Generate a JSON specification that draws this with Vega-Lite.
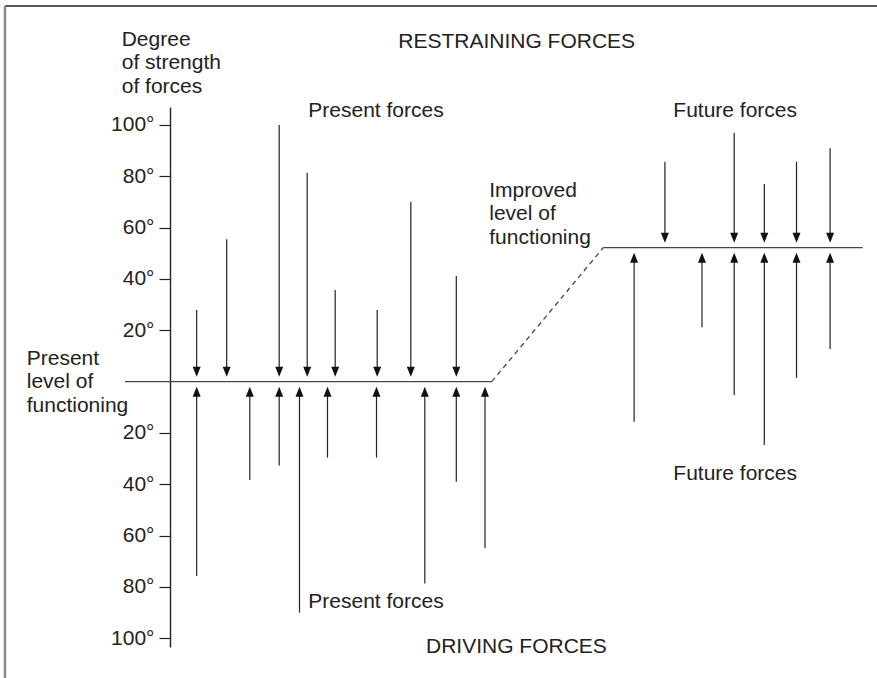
{
  "$schema": "https://vega.github.io/schema/vega-lite/v6.json",
  "width": 700,
  "height": 540,
  "autosize": {"type": "none"},
  "padding": {"left": 170, "top": 107, "right": 7, "bottom": 31},
  "background": "white",
  "config": {"view": {"stroke": null}, "font": "Liberation Sans"},
  "datasets": {
    "arrows": [
      {"x": 3.81, "y": 27.9, "level": 0, "dir": "down"},
      {"x": 8.1, "y": 55.5, "level": 0, "dir": "down"},
      {"x": 15.6, "y": 100, "level": 0, "dir": "down"},
      {"x": 19.6, "y": 81.4, "level": 0, "dir": "down"},
      {"x": 23.6, "y": 35.7, "level": 0, "dir": "down"},
      {"x": 29.6, "y": 27.9, "level": 0, "dir": "down"},
      {"x": 34.4, "y": 70.1, "level": 0, "dir": "down"},
      {"x": 40.9, "y": 41.2, "level": 0, "dir": "down"},
      {"x": 3.81, "y": -75.7, "level": 0, "dir": "up"},
      {"x": 11.4, "y": -38.3, "level": 0, "dir": "up"},
      {"x": 15.6, "y": -32.7, "level": 0, "dir": "up"},
      {"x": 18.5, "y": -90.0, "level": 0, "dir": "up"},
      {"x": 22.5, "y": -29.6, "level": 0, "dir": "up"},
      {"x": 29.5, "y": -29.6, "level": 0, "dir": "up"},
      {"x": 36.4, "y": -78.6, "level": 0, "dir": "up"},
      {"x": 40.9, "y": -39.0, "level": 0, "dir": "up"},
      {"x": 45.0, "y": -64.9, "level": 0, "dir": "up"},
      {"x": 70.7, "y": 85.7, "level": 52.2, "dir": "down"},
      {"x": 80.6, "y": 97.0, "level": 52.2, "dir": "down"},
      {"x": 84.9, "y": 77.0, "level": 52.2, "dir": "down"},
      {"x": 89.5, "y": 85.7, "level": 52.2, "dir": "down"},
      {"x": 94.3, "y": 90.9, "level": 52.2, "dir": "down"},
      {"x": 66.3, "y": -15.6, "level": 52.2, "dir": "up"},
      {"x": 76.0, "y": 21.2, "level": 52.2, "dir": "up"},
      {"x": 80.6, "y": -5.2, "level": 52.2, "dir": "up"},
      {"x": 84.9, "y": -24.7, "level": 52.2, "dir": "up"},
      {"x": 89.5, "y": 1.5, "level": 52.2, "dir": "up"},
      {"x": 94.3, "y": 12.7, "level": 52.2, "dir": "up"}
    ],
    "levels": [
      {"x": -6.43, "y": 0, "seg": "present", "style": "solid"},
      {"x": 45.96, "y": 0, "seg": "present", "style": "solid"},
      {"x": 45.96, "y": 0, "seg": "transition", "style": "dashed"},
      {"x": 61.9, "y": 52.2, "seg": "transition", "style": "dashed"},
      {"x": 61.9, "y": 52.2, "seg": "improved", "style": "solid"},
      {"x": 98.96, "y": 52.2, "seg": "improved", "style": "solid"}
    ],
    "labels": [
      {"text": "RESTRAINING FORCES", "x": 32.61, "y": 129.9},
      {"text": "Degree\nof strength\nof forces", "x": -6.9, "y": 130.8},
      {"text": "Present forces", "x": 19.76, "y": 103.2},
      {"text": "Future forces", "x": 71.9, "y": 103.2},
      {"text": "Improved\nlevel of\nfunctioning", "x": 45.61, "y": 72.06},
      {"text": "Present\nlevel of\nfunctioning", "x": -20.47, "y": 6.49},
      {"text": "Future forces", "x": 71.9, "y": -38.32},
      {"text": "Present forces", "x": 19.76, "y": -88.08},
      {"text": "DRIVING FORCES", "x": 36.57, "y": -105.84}
    ],
    "frame": [
      {"x": -23.57, "y": 146.4, "x2": 101, "y2": 146.4, "part": "top"},
      {"x": -23.57, "y": 146.4, "x2": -23.57, "y2": -116, "part": "left"}
    ]
  },
  "encoding": {
    "x": {"field": "x", "type": "quantitative", "scale": {"domain": [0, 100], "nice": false, "zero": false}, "axis": null},
    "y": {
      "field": "y", "type": "quantitative",
      "scale": {"domain": [-103.39, 107.01], "nice": false, "zero": false},
      "axis": {
        "orient": "left", "title": null, "grid": false,
        "values": [-100, -80, -60, -40, -20, 20, 40, 60, 80, 100],
        "labelExpr": "abs(datum.value) + '°'",
        "labelFont": "Liberation Sans", "labelFontSize": 21, "labelColor": "#222",
        "labelPadding": 5, "labelOverlap": false, "labelFlush": false,
        "tickSize": 11, "tickColor": "#222", "tickWidth": 1.2,
        "domainColor": "#222", "domainWidth": 1.4
      }
    }
  },
  "layer": [
    {
      "data": {"name": "frame"},
      "mark": {"type": "rule"},
      "encoding": {
        "x2": {"field": "x2"},
        "y2": {"field": "y2"},
        "stroke": {"field": "part", "type": "nominal", "scale": {"domain": ["top", "left"], "range": ["#222", "#8a8a8a"]}, "legend": null},
        "strokeWidth": {"field": "part", "type": "nominal", "scale": {"domain": ["top", "left"], "range": [1.5, 2.5]}, "legend": null}
      }
    },
    {
      "data": {"name": "levels"},
      "mark": {"type": "line", "color": "#444", "strokeWidth": 1.3},
      "encoding": {
        "detail": {"field": "seg", "type": "nominal"},
        "strokeDash": {"field": "style", "type": "nominal", "scale": {"domain": ["solid", "dashed"], "range": [[1, 0], [5, 4]]}, "legend": null}
      }
    },
    {
      "data": {"name": "arrows"},
      "transform": [{"filter": "datum.dir === 'down'"}],
      "mark": {"type": "rule", "color": "#222", "strokeWidth": 1.2, "y2Offset": -8},
      "encoding": {"y2": {"field": "level"}}
    },
    {
      "data": {"name": "arrows"},
      "transform": [{"filter": "datum.dir === 'up'"}],
      "mark": {"type": "rule", "color": "#222", "strokeWidth": 1.2, "y2Offset": 8},
      "encoding": {"y2": {"field": "level"}}
    },
    {
      "data": {"name": "arrows"},
      "transform": [{"filter": "datum.dir === 'down'"}],
      "mark": {"type": "point", "filled": true, "color": "#111", "opacity": 1, "size": 100, "shape": "M-0.8,-3L0.8,-3L0,-1Z"},
      "encoding": {"y": {"field": "level", "type": "quantitative"}}
    },
    {
      "data": {"name": "arrows"},
      "transform": [{"filter": "datum.dir === 'up'"}],
      "mark": {"type": "point", "filled": true, "color": "#111", "opacity": 1, "size": 100, "shape": "M-0.8,3L0.8,3L0,1Z"},
      "encoding": {"y": {"field": "level", "type": "quantitative"}}
    },
    {
      "data": {"name": "labels"},
      "mark": {"type": "text", "align": "left", "baseline": "alphabetic", "font": "Liberation Sans", "fontSize": 21, "color": "#222", "lineBreak": "\n", "lineHeight": 23.5},
      "encoding": {"text": {"field": "text", "type": "nominal"}}
    }
  ]
}
